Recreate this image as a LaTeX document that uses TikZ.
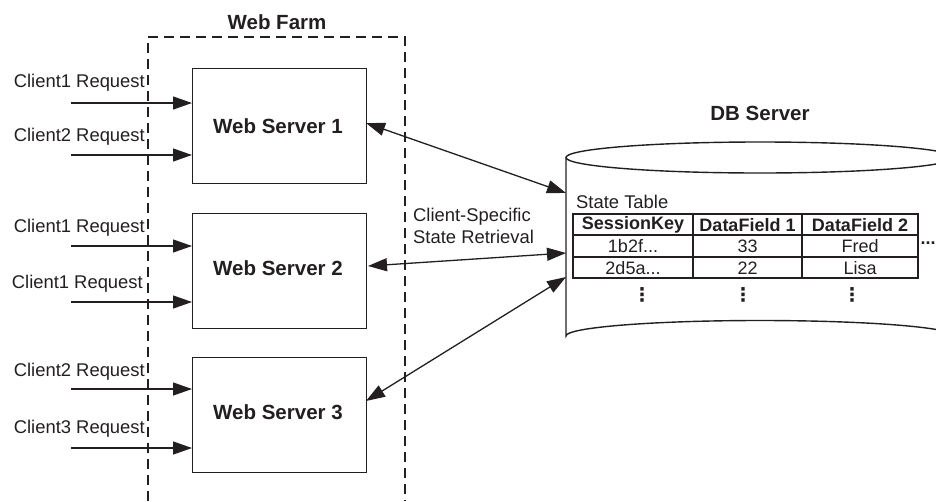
\documentclass[tikz,border=0pt]{standalone}
\usepackage{fontspec}
\setmainfont{Liberation Sans}
\newfontfamily\dejavu{DejaVu Sans}
\usetikzlibrary{arrows.meta}
\definecolor{ink}{HTML}{231F20}
\begin{document}
\begin{tikzpicture}[x=1pt,y=-1pt,color=ink,
  lbl/.style={font=\fontsize{18.4}{22}\selectfont, inner sep=0pt, text=ink},
  ttl/.style={font=\fontsize{20.5}{24}\selectfont\bfseries, inner sep=0pt, text=ink},
  srv/.style={draw=ink, line width=1.4pt, minimum width=174pt, minimum height=115pt, anchor=north west, font=\fontsize{20.5}{24}\selectfont\bfseries, text=ink},
  tip/.tip={Triangle[length=19pt,width=13pt]},
  arr/.style={-tip, line width=1.3pt, draw=ink},
  darr/.style={tip-tip, line width=1.3pt, draw=ink},
  hd/.style={font=\fontsize{18}{21}\selectfont\bfseries, inner sep=0pt, text=ink},
  cell/.style={font=\fontsize{18}{21}\selectfont, inner sep=0pt, text=ink},
  vd/.style={font=\dejavu\bfseries\fontsize{19}{21}\selectfont, inner sep=0pt, text=ink},
  grid/.style={line width=1.6pt, draw=ink},
]
\useasboundingbox (0,0) rectangle (936,501);

% Web farm
\draw[dashed, dash pattern=on 10pt off 6pt, line width=1.3pt] (148,501) -- (148,37) -- (405,37) -- (405,501);
\node[ttl] (farm) at (277,22) {Web Farm};

% servers
\node[srv] (s1) at (192,68) {};
\node[ttl] (s1t) at (278,126) {Web Server 1};
\node[srv] (s2) at (192,213) {};
\node[ttl] (s2t) at (278,268) {Web Server 2};
\node[srv] (s3) at (192,357) {};
\node[ttl] (s3t) at (278,412) {Web Server 3};

% client requests
\node[lbl, anchor=east] (l1) at (145,83) {Client1 Request};
\node[lbl, anchor=east] (l2) at (145,137) {Client2 Request};
\node[lbl, anchor=east] (l3) at (145,228) {Client1 Request};
\node[lbl, anchor=east] (l4) at (143,284) {Client1 Request};
\node[lbl, anchor=east] (l5) at (145,372) {Client2 Request};
\node[lbl, anchor=east] (l6) at (145,429) {Client3 Request};
\coordinate (a1) at (71,103);
\coordinate (a2) at (71,155);
\coordinate (a3) at (71,246);
\coordinate (a4) at (71,302);
\coordinate (a5) at (71,389);
\coordinate (a6) at (71,448);
\draw[arr] (a1) -- (s1.west |- a1);
\draw[arr] (a2) -- (s1.west |- a2);
\draw[arr] (a3) -- (s2.west |- a3);
\draw[arr] (a4) -- (s2.west |- a4);
\draw[arr] (a5) -- (s3.west |- a5);
\draw[arr] (a6) -- (s3.west |- a6);

% DB server cylinder
\node[ttl] (db) at (760,113) {DB Server};
\draw[line width=1.4pt] (760,157.5) ellipse [x radius=194, y radius=15.5];
\draw[line width=1.4pt] (566,157.5) -- (566,336) arc[start angle=180, end angle=360, x radius=194, y radius=15.5] -- (954,157.5);
\coordinate (d1) at (566,193);
\coordinate (d2) at (566,253);
\coordinate (d3) at (566,277);

% connectors
\draw[darr] (366,123) -- (d1);
\draw[darr] (368,266) -- (d2);
\draw[darr] (366,401) -- (d3);
\node[lbl, anchor=west, align=left] (ret) at (413,226) {Client-Specific\\State Retrieval};

% state table
\node[lbl, anchor=west] (st) at (576,202) {State Table};
\draw[grid] (573,214) rectangle (918,278);
\draw[grid] (573,235) -- (918,235);
\draw[grid] (573,257) -- (918,257);
\draw[grid] (693,214) -- (693,278);
\draw[grid] (802,214) -- (802,278);
\node[hd] (h1) at (633,225) {SessionKey};
\node[hd] (h2) at (747.5,225) {DataField 1};
\node[hd] (h3) at (860,225) {DataField 2};
\node[cell] (r11) at (633,246) {1b2f...};
\node[cell] (r12) at (747.5,246) {33};
\node[cell] (r13) at (860,246) {Fred};
\node[cell] (r21) at (633,268) {2d5a...};
\node[cell] (r22) at (747.5,268) {22};
\node[cell] (r23) at (860,268) {Lisa};
\node[hd] (dr) at (928,243) {...};
\node[vd] (v1) at (642,295) {⋮};
\node[vd] (v2) at (743,295) {⋮};
\node[vd] (v3) at (852,295) {⋮};
\end{tikzpicture}
\end{document}
